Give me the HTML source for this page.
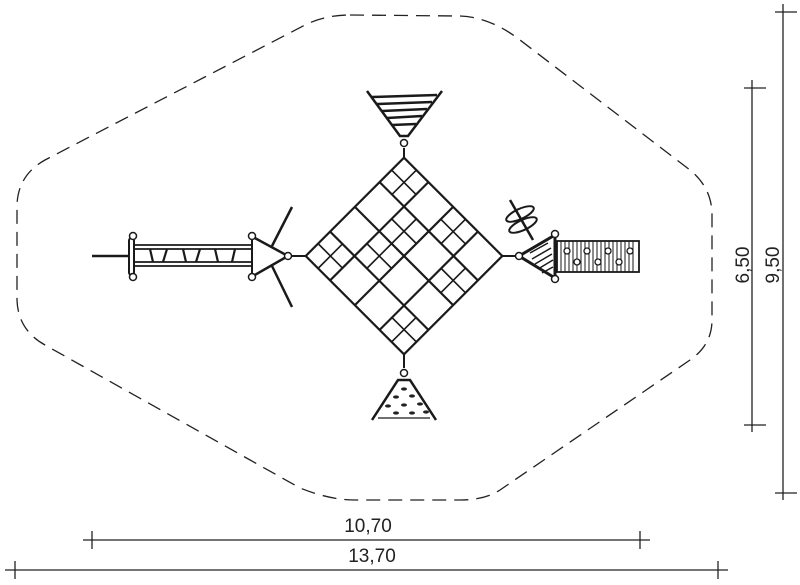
<!DOCTYPE html>
<html><head><style>
html,body{margin:0;padding:0;background:#fff;width:800px;height:585px;overflow:hidden}
svg{display:block}
text{font-family:"Liberation Sans",sans-serif;font-size:19px;fill:#222}
</style></head><body>
<svg width="800" height="585" viewBox="0 0 800 585" xmlns="http://www.w3.org/2000/svg">
<path d="M350,15 L460,16 Q490,17 520,40 L690,170 Q712,188 712,215 L712,320 Q712,345 690,360 L500,490 Q485,500 460,500 L355,500 Q330,500 300,488 L45,345 Q18,330 17,300 L17,205 Q18,175 45,160 L305,25 Q325,15 350,15 Z" fill="none" stroke="#222" stroke-width="1.3" stroke-dasharray="14,8"/>

<g stroke="#1a1a1a" fill="none">
<g transform="translate(404,256) rotate(45)" stroke-width="2.2">
<rect x="-69.5" y="-69.5" width="139" height="139"/>
<line x1="-35" y1="-69.5" x2="-35" y2="69.5"/><line x1="0" y1="-69.5" x2="0" y2="69.5"/><line x1="35" y1="-69.5" x2="35" y2="69.5"/>
<line x1="-69.5" y1="-35" x2="69.5" y2="-35"/><line x1="-69.5" y1="0" x2="69.5" y2="0"/><line x1="-69.5" y1="35" x2="69.5" y2="35"/>
<g stroke-width="1.6">
<path d="M-52,-69.5 V-35 M-69.5,-52 H-35"/>
<path d="M52,69.5 V35 M69.5,52 H35"/>
<path d="M-17.5,0 V35 M0,17.5 H-35 M-17.5,-35 V0 M-35,-17.5 H0"/>
<path d="M17.5,-69.5 V-35 M0,-52 H35"/>
<path d="M-52,35 V69.5 M-69.5,52 H-35"/>
<path d="M52,-35 V0 M35,-17.5 H69.5"/>
</g>
</g>
<line x1="404" y1="148" x2="404" y2="158" stroke-width="2"/>
<line x1="404" y1="355" x2="404" y2="368" stroke-width="2"/>
<line x1="292" y1="256" x2="305" y2="256" stroke-width="2"/>
<line x1="502" y1="256" x2="515" y2="256" stroke-width="2"/>
<path d="M367,91 L400,136 L408,136 L442,91" stroke-width="2.5"/>
<path d="M372,97 L437,95 M377,104 L432,102 M382,111 L427,109 M387,118 L422,116 M392,125 L416,124" stroke-width="2.5"/>
<circle cx="404" cy="143" r="3.5" fill="#fff" stroke-width="1.5"/>
<path d="M372,420 L398,380 L410,380 L436,420" stroke-width="2.5"/>
<line x1="378" y1="418" x2="430" y2="418" stroke-width="1.2"/>
<g fill="#222" stroke="none">
<ellipse cx="404" cy="389" rx="3" ry="1.6"/><ellipse cx="396" cy="397" rx="3" ry="1.6"/><ellipse cx="412" cy="396" rx="3" ry="1.6"/>
<ellipse cx="388" cy="406" rx="3" ry="1.6"/><ellipse cx="404" cy="405" rx="3" ry="1.6"/><ellipse cx="420" cy="404" rx="3" ry="1.6"/>
<ellipse cx="396" cy="413" rx="3" ry="1.6"/><ellipse cx="412" cy="413" rx="3" ry="1.6"/><ellipse cx="426" cy="412" rx="3" ry="1.6"/>
</g>
<circle cx="404" cy="373" r="3.5" fill="#fff" stroke-width="1.5"/>

<line x1="92" y1="256" x2="130" y2="256" stroke-width="2.5"/>
<rect x="129" y="238" width="5" height="37" rx="2.5" stroke-width="2"/>
<path d="M135,245 H252 M135,266 H252 M135,249 H252 M135,262 H252" stroke-width="1.8"/>
<path d="M150,249 L153,262 M163,262 L167,249 M183,249 L186,262 M196,262 L200,249 M215,249 L218,262 M232,262 L235,249" stroke-width="2.2"/>
<line x1="252" y1="238" x2="252" y2="275" stroke-width="2"/>
<path d="M253,237 L288,256 L253,276" stroke-width="2.5"/>
<line x1="272" y1="246" x2="292" y2="207" stroke-width="2.5"/>
<line x1="272" y1="266" x2="292" y2="307" stroke-width="2.5"/>
<circle cx="133" cy="236" r="3.5" fill="#fff" stroke-width="1.5"/>
<circle cx="133" cy="277" r="3.5" fill="#fff" stroke-width="1.5"/>
<circle cx="252" cy="236" r="3.5" fill="#fff" stroke-width="1.5"/>
<circle cx="252" cy="277" r="3.5" fill="#fff" stroke-width="1.5"/>
<circle cx="288" cy="256" r="3.5" fill="#fff" stroke-width="1.5"/>

<line x1="510" y1="200" x2="533" y2="240" stroke-width="2.5"/>
<ellipse cx="520" cy="214" rx="15" ry="5" transform="rotate(-25 520 214)" stroke-width="2"/>
<ellipse cx="523" cy="225" rx="15" ry="5" transform="rotate(-25 523 225)" stroke-width="2"/>
<path d="M519,256 L555,235 L555,278 Z" stroke-width="3"/>
<path d="M530,253 L548,243 M532,259 L551,248 M535,264 L552,254 M538,269 L553,260 M542,273 L553,267" stroke-width="1.5"/>
<rect x="557" y="241" width="82" height="31" stroke-width="1.8"/>
<path d="M561,241V272M565,241V272M569,241V272M573,241V272M577,241V272M581,241V272M585,241V272M589,241V272M593,241V272M597,241V272M601,241V272M605,241V272M609,241V272M613,241V272M617,241V272M621,241V272M625,241V272M629,241V272M633,241V272" stroke-width="1"/>
<g fill="#fff" stroke-width="1.3">
<circle cx="567" cy="251" r="3"/><circle cx="587" cy="251" r="3"/><circle cx="608" cy="251" r="3"/><circle cx="630" cy="251" r="3"/>
<circle cx="577" cy="262" r="3"/><circle cx="598" cy="262" r="3"/><circle cx="619" cy="262" r="3"/>
</g>
<circle cx="519" cy="256" r="3.5" fill="#fff" stroke-width="1.5"/>
<circle cx="555" cy="234" r="3.5" fill="#fff" stroke-width="1.5"/>
<circle cx="555" cy="279" r="3.5" fill="#fff" stroke-width="1.5"/>

<g stroke="#222" stroke-width="1.3">
<line x1="752" y1="80" x2="752" y2="432"/><line x1="744" y1="88" x2="766" y2="88"/><line x1="744" y1="425" x2="766" y2="425"/>
<line x1="783" y1="4" x2="783" y2="500"/><line x1="775" y1="12" x2="797" y2="12"/><line x1="775" y1="493" x2="797" y2="493"/>
<line x1="83" y1="540" x2="650" y2="540"/><line x1="92" y1="531" x2="92" y2="549"/><line x1="640" y1="531" x2="640" y2="549"/>
<line x1="5" y1="570" x2="728" y2="570"/><line x1="15" y1="561" x2="15" y2="579"/><line x1="718" y1="561" x2="718" y2="579"/>
</g>
</g>
<text x="368" y="532" text-anchor="middle">10,70</text>
<text x="372" y="562" text-anchor="middle">13,70</text>
<text transform="translate(749,265) rotate(-90)" text-anchor="middle">6,50</text>
<text transform="translate(779,265) rotate(-90)" text-anchor="middle">9,50</text>
</svg>
</body></html>
